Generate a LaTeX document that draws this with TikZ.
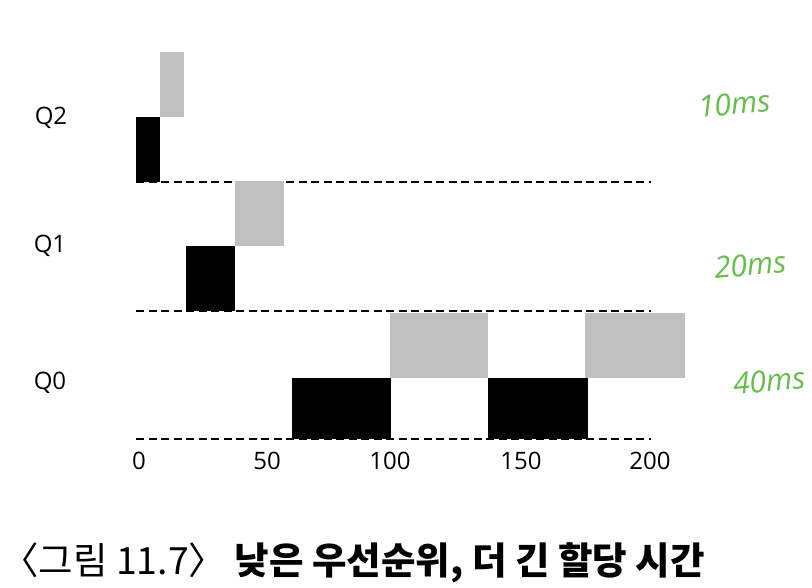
\documentclass[tikz,border=0pt]{standalone}
\usepackage{fontspec}
\setmainfont{Open Sans}
\newfontfamily\cjk{Noto Sans CJK KR}
\definecolor{barg}{HTML}{C0C0C0}
\definecolor{hand}{HTML}{63BE4A}
\begin{document}
\begin{tikzpicture}[x=1pt,y=-1pt,
  base/.style={draw=black,line width=2.8pt,dash pattern=on 8pt off 4.5pt},
  runblk/.style={fill=black},
  waitblk/.style={fill=barg},
  qlab/.style={font=\fontsize{24}{26}\selectfont,inner sep=0pt},
  tick/.style={font=\fontsize{24}{26}\selectfont,inner sep=0pt},
  handlab/.style={font=\fontsize{30}{32}\selectfont\itshape,text=hand,inner sep=0pt},
  captext/.style={font=\cjk\fontsize{37.5}{40}\selectfont,inner sep=0pt,anchor=base west}]
\useasboundingbox (0,0) rectangle (812,588);
% baselines
\coordinate (b2s) at (136,182); \coordinate (b2e) at (651,182);
\coordinate (b1s) at (136,311); \coordinate (b1e) at (651,311);
\coordinate (b0s) at (136,439); \coordinate (b0e) at (651,439);
\draw[base] (b2s) -- (b2e);
\draw[base] (b1s) -- (b1e);
\draw[base] (b0s) -- (b0e);
% Q2
\fill[runblk] (136,117) rectangle (160,182);
\fill[waitblk] (160,52) rectangle (184,117);
% Q1
\fill[runblk] (186,246) rectangle (235,311);
\fill[waitblk] (235,181) rectangle (284,246);
% Q0
\fill[runblk] (292,378) rectangle (391,439);
\fill[waitblk] (390,313) rectangle (488,378);
\fill[runblk] (488,378) rectangle (588,439);
\fill[waitblk] (585,313) rectangle (685,378);
% labels
\node[qlab] (q2) at (51,118) {Q2};
\node[qlab] (q1) at (50,246) {Q1};
\node[qlab] (q0) at (50,383) {Q0};
\node[tick] (t0) at (139,461) {0};
\node[tick] (t50) at (267,461) {50};
\node[tick] (t100) at (390,461) {100};
\node[tick] (t150) at (521,461) {150};
\node[tick] (t200) at (650,461) {200};
\node[handlab,rotate=5] (h10) at (734,104) {10ms};
\node[handlab,rotate=5] (h20) at (750,265) {20ms};
\node[handlab,rotate=5] (h40) at (769,381) {40ms};
\node[captext] (caption) at (1,574) {〈그림 11.7〉 \textbf{낮은 우선순위, 더 긴 할당 시간}};
\end{tikzpicture}
\end{document}
